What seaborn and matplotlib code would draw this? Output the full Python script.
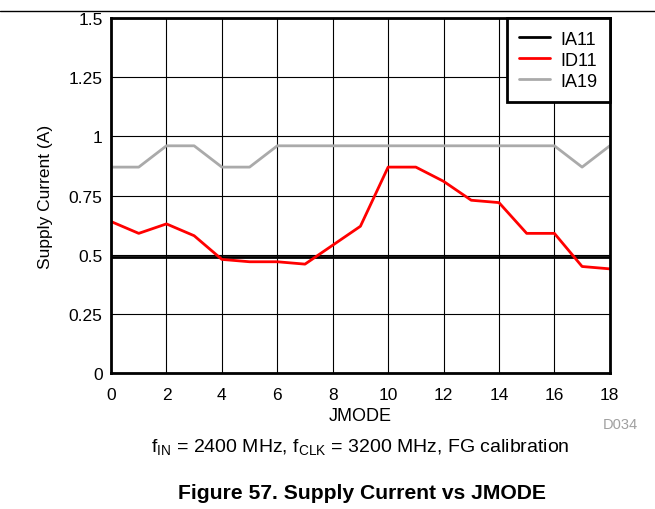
import numpy as np
import pandas as pd
import seaborn as sns
import matplotlib.pyplot as plt
from matplotlib.ticker import FuncFormatter

jmode = list(range(19))
ia11 = [0.49] * 19
id11 = [0.64, 0.59, 0.63, 0.58, 0.48, 0.47, 0.47, 0.46, 0.54, 0.62,
        0.87, 0.87, 0.81, 0.73, 0.72, 0.59, 0.59, 0.45, 0.44]
ia19 = [0.87, 0.87, 0.96, 0.96, 0.87, 0.87, 0.96, 0.96, 0.96, 0.96,
        0.96, 0.96, 0.96, 0.96, 0.96, 0.96, 0.96, 0.87, 0.96]
series_names = ["IA11", "ID11", "IA19"]
series_colors = ["#000000", "#ff0000", "#aaaaaa"]

df = pd.DataFrame({"JMODE": jmode, "IA11": ia11, "ID11": id11, "IA19": ia19})
long_df = df.melt(id_vars="JMODE", var_name="Rail", value_name="Current")

sns.set_style("white")
plt.rcParams['font.family'] = ['Liberation Sans', 'DejaVu Sans']
for key in ["text.color", "axes.labelcolor", "xtick.color", "ytick.color"]:
    plt.rcParams[key] = "black"

fig = plt.figure(figsize=(6.55, 5.10), dpi=100)
ax = fig.add_axes([0.1695, 0.2667, 0.7615, 0.696])

sns.lineplot(data=long_df, x="JMODE", y="Current", hue="Rail",
             hue_order=series_names, palette=dict(zip(series_names, series_colors)),
             linewidth=2, ax=ax)

ax.set_xlim(0, 18)
ax.set_ylim(0, 1.5)
ax.set_xticks(range(0, 19, 2))
ax.set_yticks([0, 0.25, 0.5, 0.75, 1, 1.25, 1.5])
ax.yaxis.set_major_formatter(FuncFormatter(lambda v, p: f"{v:g}"))
ax.grid(True, color="#000000", linewidth=0.8)
ax.set_axisbelow(True)
for s in ax.spines.values():
    s.set_color("black")
    s.set_linewidth(2)
ax.tick_params(axis="both", labelsize=12.5, length=0)
ax.tick_params(axis="x", pad=10)
ax.tick_params(axis="y", pad=6)
ax.set_xlabel("JMODE", fontsize=13, va="top")
ax.xaxis.set_label_coords(0.5, -0.097)
ax.set_ylabel("Supply Current (A)", fontsize=12.5, va="center")
ax.yaxis.set_label_coords(-0.132, 0.5)

leg = ax.legend(loc="upper right", fontsize=13, frameon=True, fancybox=False,
                borderaxespad=0, handlelength=1.7, handletextpad=0.55,
                labelspacing=0.22, borderpad=0.7)
leg.get_frame().set_edgecolor("black")
leg.get_frame().set_linewidth(2)
leg.get_frame().set_alpha(1)
leg.set_title(None)

fig.add_artist(plt.Line2D([0, 1], [1 - 12 / 510, 1 - 12 / 510], color="black", linewidth=1))
fig.text(620 / 655, 1 - 425 / 510, "D034", color="#a0a0a0", fontsize=10.5, ha="center", va="center")
fig.text(360 / 655, 1 - 448 / 510,
         r"f$_{\mathregular{IN}}$ = 2400 MHz, f$_{\mathregular{CLK}}$ = 3200 MHz, FG calibration",
         fontsize=14, ha="center", va="center")
fig.text(362 / 655, 1 - 494 / 510, "Figure 57. Supply Current vs JMODE",
         fontsize=15.2, fontweight="bold", ha="center", va="center")

fig.savefig("out.png", dpi=100)
